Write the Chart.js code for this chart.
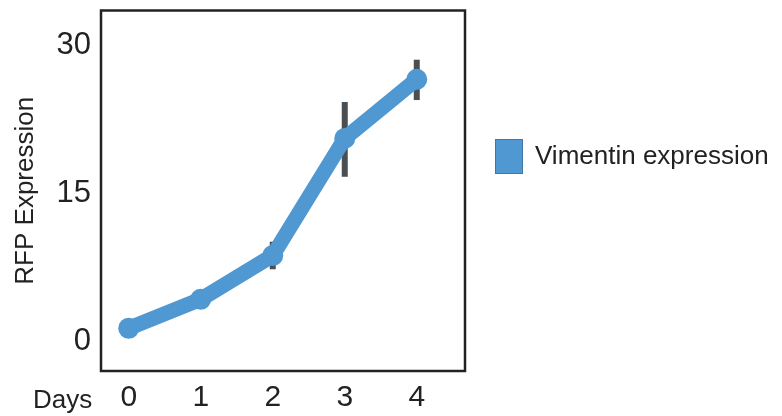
<!DOCTYPE html>
<html>
<head>
<meta charset="utf-8">
<script src="https://cdn.jsdelivr.net/npm/chart.js@4/dist/chart.umd.min.js"></script>
<style>
  html, body { margin: 0; padding: 0; background: #fff; }
  #wrap { width: 782px; height: 416px; position: relative; }
</style>
</head>
<body>
<div id="wrap"><canvas id="c" width="782" height="416"></canvas></div>
<script>
// Time course of vimentin-driven RFP expression
const days = [0, 1, 2, 3, 4];
const meanExpression = [1.3, 4.25, 8.7, 20.6, 26.6];
const errLow = [null, null, 7.3, 16.7, 24.5];
const errHigh = [null, null, 10.1, 24.3, 28.6];
const yTickValues = [0, 15, 30];
const seriesName = 'Vimentin expression';
const xAxisName = 'Days';
const yAxisName = 'RFP Expression';

const FONT = '"Liberation Sans", Arial, Helvetica, sans-serif';
const BLUE = '#5098D2';
const TEXT = '#222222';

// vertical error bars, drawn underneath the line
const errorBars = {
  id: 'errorBars',
  beforeDatasetsDraw(chart) {
    const ctx = chart.ctx, xs = chart.scales.x, ys = chart.scales.y;
    ctx.save();
    ctx.strokeStyle = '#4a4f53';
    ctx.lineWidth = 6;
    days.forEach((d, i) => {
      if (errLow[i] == null) return;
      const x = xs.getPixelForValue(d);
      ctx.beginPath();
      ctx.moveTo(x, ys.getPixelForValue(errLow[i]));
      ctx.lineTo(x, ys.getPixelForValue(errHigh[i]));
      ctx.stroke();
    });
    ctx.restore();
  }
};

// frame around the plot, legend on the right and the x axis name
const decorations = {
  id: 'decorations',
  afterDraw(chart) {
    const ctx = chart.ctx, a = chart.chartArea;
    ctx.save();
    ctx.strokeStyle = '#222';
    ctx.lineWidth = 2.5;
    ctx.strokeRect(a.left, a.top, a.right - a.left, a.bottom - a.top);

    ctx.fillStyle = TEXT;
    ctx.font = '26px ' + FONT;
    ctx.textAlign = 'left';
    ctx.textBaseline = 'alphabetic';
    ctx.fillText(xAxisName, 33, 408);

    // legend
    const ds = chart.data.datasets[0];
    ctx.fillStyle = ds.borderColor;
    ctx.fillRect(495, 139, 28, 35);
    ctx.strokeStyle = '#3f78a8';
    ctx.lineWidth = 1;
    ctx.strokeRect(495.5, 139.5, 27, 34);
    ctx.fillStyle = TEXT;
    ctx.font = '26px ' + FONT;
    ctx.textBaseline = 'middle';
    ctx.fillText(ds.label, 535, 157);
    ctx.restore();
  }
};

new Chart(document.getElementById('c'), {
  type: 'line',
  data: {
    datasets: [{
      label: seriesName,
      data: days.map((d, i) => ({ x: d, y: meanExpression[i] })),
      borderColor: BLUE,
      backgroundColor: BLUE,
      borderWidth: 15,
      borderCapStyle: 'round',
      borderJoinStyle: 'round',
      pointRadius: 10.5,
      pointBackgroundColor: BLUE,
      pointBorderWidth: 0,
      tension: 0
    }]
  },
  options: {
    responsive: false,
    animation: false,
    layout: { padding: { top: 9, right: 317, left: 0, bottom: 0 } },
    plugins: { legend: { display: false }, tooltip: { enabled: false } },
    scales: {
      x: {
        type: 'linear',
        min: -0.385,
        max: 4.67,
        afterBuildTicks(s) { s.ticks = days.map(v => ({ value: v })); },
        afterFit(s) { s.height = 45; s.paddingLeft = 0; s.paddingRight = 0; },
        grid: { display: false, drawTicks: false },
        border: { display: false },
        ticks: {
          color: TEXT,
          font: { family: FONT, size: 30 },
          padding: 9,
          maxRotation: 0,
          callback: v => String(v)
        }
      },
      y: {
        type: 'linear',
        min: -3.04,
        max: 33.6,
        afterBuildTicks(s) { s.ticks = yTickValues.map(v => ({ value: v })); },
        afterFit(s) { s.width = 101; s.paddingTop = 0; s.paddingBottom = 0; },
        grid: { display: false, drawTicks: false },
        border: { display: false },
        title: {
          display: true,
          text: yAxisName,
          color: TEXT,
          font: { family: FONT, size: 26 },
          padding: { top: 10, bottom: 0 }
        },
        ticks: {
          color: TEXT,
          font: { family: FONT, size: 31 },
          padding: 10,
          callback: v => String(v)
        }
      }
    }
  },
  plugins: [errorBars, decorations]
});
</script>
</body>
</html>
